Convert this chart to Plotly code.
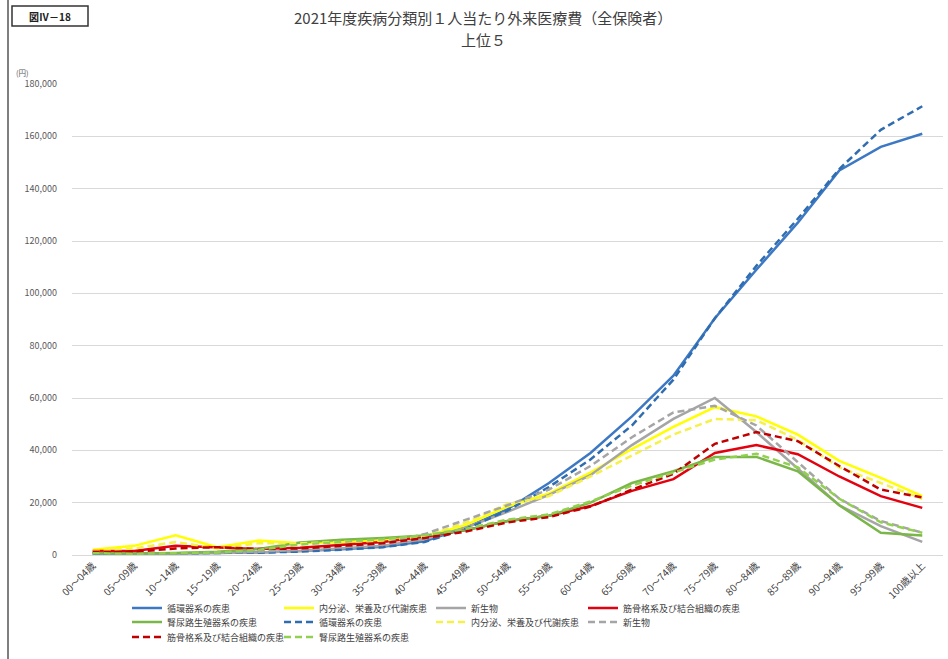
import plotly.graph_objects as go

categories = ["00～04歳", "05～09歳", "10～14歳", "15～19歳", "20～24歳", "25～29歳", "30～34歳",
              "35～39歳", "40～44歳", "45～49歳", "50～54歳", "55～59歳", "60～64歳", "65～69歳",
              "70～74歳", "75～79歳", "80～84歳", "85～89歳", "90～94歳", "95～99歳", "100歳以上"]

circ_a = [600, 500, 700, 900, 1000, 1500, 2200, 3200, 5200, 10500, 17500, 27500, 39000, 53000,
          68500, 90500, 109000, 127000, 147000, 156000, 161000]
endo_a = [2000, 3500, 7500, 3000, 5500, 4500, 5000, 5500, 7000, 11500, 18500, 23500, 31500, 40500,
          49000, 56500, 53000, 46000, 36000, 29500, 22500]
neo_a = [800, 500, 600, 800, 1000, 1500, 2500, 3500, 6000, 10500, 16500, 23000, 30500, 42000,
         52000, 60000, 47000, 33000, 19000, 11000, 5000]
musc_a = [1500, 1500, 3500, 3000, 2300, 2800, 4000, 5000, 7000, 9500, 13000, 15000, 18700, 24500,
          29000, 39000, 42000, 38500, 30000, 22500, 18000]
uro_a = [800, 600, 800, 1200, 2300, 4800, 5800, 6500, 7500, 9500, 13000, 15000, 20000, 27500,
         32000, 37500, 37500, 32000, 19000, 8500, 7500]
circ_b = [500, 500, 600, 800, 900, 1300, 2000, 3000, 5000, 10000, 17000, 26000, 36500, 49500,
          67000, 90500, 110500, 128500, 147500, 162500, 171500]
endo_b = [1500, 2500, 5000, 2500, 4500, 4500, 5000, 5500, 7000, 12500, 19500, 22500, 30000, 38000,
          46000, 52000, 51500, 44000, 33500, 27500, 21500]
neo_b = [800, 500, 600, 800, 1200, 2000, 3000, 4500, 8000, 13500, 19000, 25000, 34000, 45000,
         54500, 57000, 49500, 35500, 21500, 13000, 8500]
musc_b = [1200, 1200, 2500, 3000, 2300, 2500, 3500, 4500, 6500, 9000, 12500, 14500, 18500, 25000,
          31000, 42500, 47000, 43500, 34000, 25000, 22000]
uro_b = [700, 500, 700, 1000, 2000, 4000, 5000, 6000, 7500, 10000, 13500, 15500, 20500, 26500,
         31500, 36500, 38700, 33500, 21500, 12500, 8500]

names = ["循環器系の疾患", "内分泌、栄養及び代謝疾患", "新生物", "筋骨格系及び結合組織の疾患",
         "腎尿路生殖器系の疾患"]

DASH = "7px,4px"
series = [
    (names[0], circ_a, "#3C78C3", "solid", "legend"),
    (names[1], endo_a, "#FFFF00", "solid", "legend"),
    (names[2], neo_a, "#A5A5A5", "solid", "legend"),
    (names[3], musc_a, "#E3000F", "solid", "legend4"),
    (names[4], uro_a, "#7AB648", "solid", "legend2"),
    (names[0], circ_b, "#2F6DB0", DASH, "legend2"),
    (names[1], endo_b, "#F5F04A", DASH, "legend2"),
    (names[2], neo_b, "#A5A5A5", DASH, "legend2"),
    (names[3], musc_b, "#C00000", DASH, "legend3"),
    (names[4], uro_b, "#92D050", DASH, "legend3"),
]

FONT = "Noto Sans CJK JP"
W, H = 948, 659
# plot area in page pixels: x 72..943, y 84..555
L, R, T, B = 72, W - 943, 84, H - 555
PW, PH = W - L - R, H - T - B


def px(X):
    return (X - L) / PW


def py(Y):
    return (H - B - Y) / PH


fig = go.Figure()
for name, vals, color, dash, leg in series:
    fig.add_trace(go.Scatter(x=categories, y=vals, name=name, mode="lines", legend=leg,
                             line=dict(color=color, width=2.5, dash=dash)))


def legend_row(X, Y, ew=107):
    d = dict(orientation="h", xref="container", yref="container",
             x=(X - 6) / W, y=1 - Y / H, xanchor="left", yanchor="middle",
             itemwidth=30,
             font=dict(size=9, color="#404040", family=FONT),
             bgcolor="rgba(0,0,0,0)", borderwidth=0)
    if ew:
        d.update(entrywidth=ew, entrywidthmode="pixels")
    return d


COL1, STEP = 133, 152
fig.update_layout(
    width=W, height=H,
    margin=dict(l=L, r=R, t=T, b=B, autoexpand=False),
    paper_bgcolor="white", plot_bgcolor="white",
    font=dict(family=FONT, size=9, color="#404040"),
    showlegend=True,
    legend=legend_row(COL1, 608),
    legend2=legend_row(COL1, 622),
    legend3=legend_row(COL1, 637),
    legend4=legend_row(COL1 + 3 * STEP, 608, ew=None),
    xaxis=dict(type="category", range=[-0.5, 20.5], tickangle=-45, showgrid=False,
               showline=True, linecolor="#D9D9D9", linewidth=1, ticks="", automargin=False,
               tickfont=dict(size=10, color="#404040", family=FONT)),
    yaxis=dict(range=[0, 180000], dtick=20000, tickformat=",", showgrid=True,
               gridcolor="#D9D9D9", gridwidth=1, zeroline=False, ticks="", automargin=False,
               ticklabelstandoff=14,
               tickfont=dict(size=9, color="#595959", family=FONT)),
)

fig.add_annotation(text="2021年度疾病分類別１人当たり外来医療費（全保険者）", xref="paper", yref="paper",
                   x=px(483), y=py(17), xanchor="center", yanchor="middle", showarrow=False,
                   font=dict(size=15, color="#404040", family=FONT))
fig.add_annotation(text="上位５", xref="paper", yref="paper",
                   x=px(483), y=py(39), xanchor="center", yanchor="middle", showarrow=False,
                   font=dict(size=15, color="#404040", family=FONT))
fig.add_annotation(text="(円)", xref="paper", yref="paper",
                   x=px(22), y=py(72), xanchor="center", yanchor="middle", showarrow=False,
                   font=dict(size=7.5, color="#595959", family=FONT))
fig.add_annotation(text="<b>図Ⅳ－18</b>", xref="paper", yref="paper",
                   x=px(50), y=py(16), xanchor="center", yanchor="middle", showarrow=False,
                   font=dict(size=10, color="#202020", family=FONT))
fig.add_shape(type="rect", xref="paper", yref="paper", x0=px(12), x1=px(88), y0=py(6), y1=py(26),
              line=dict(color="#333333", width=1.5), fillcolor="rgba(0,0,0,0)")
fig.add_shape(type="line", xref="paper", yref="paper", x0=px(8), x1=px(8), y0=py(0), y1=py(H),
              line=dict(color="#555555", width=1.5))

fig.write_html("out.html", config={"displayModeBar": False},
               post_script="document.body.style.margin='0';document.body.style.overflow='hidden';")
